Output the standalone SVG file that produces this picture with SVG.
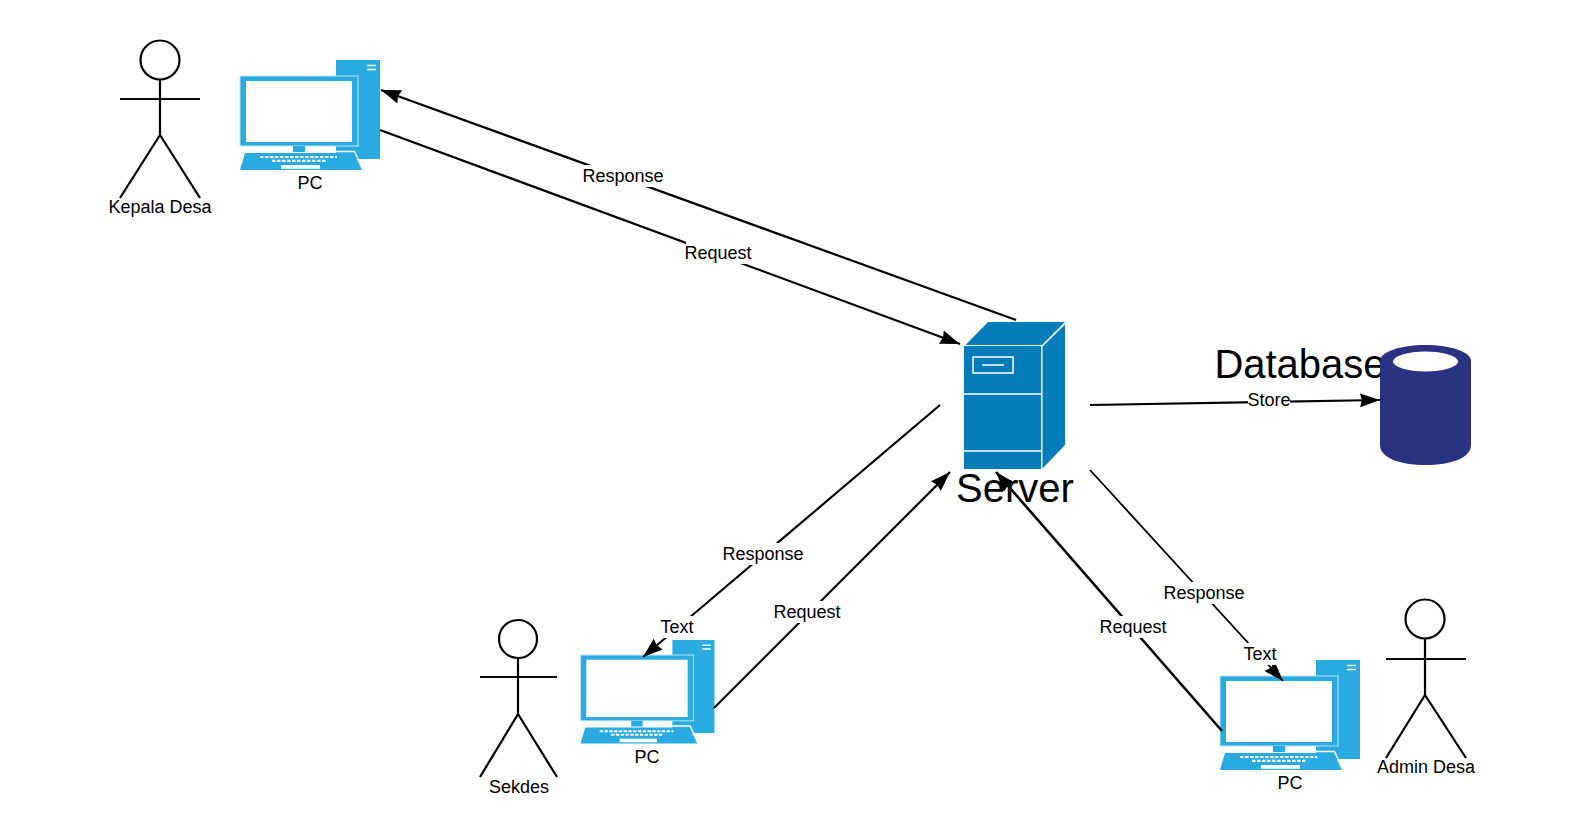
<svg xmlns="http://www.w3.org/2000/svg" width="1586" height="840" viewBox="0 0 1586 840">
<style>
text{font-family:"Liberation Sans",Arial,sans-serif;fill:#000;text-anchor:middle}
.t18{font-size:18px}
.t40{font-size:40px}
.actor{fill:none;stroke:#000;stroke-width:2.2}
.line{fill:none;stroke:#000;stroke-width:2.2}
.bg{fill:#fff}
</style>
<defs>
<marker id="arrow" markerUnits="userSpaceOnUse" markerWidth="24" markerHeight="18" refX="20" refY="8" orient="auto">
<path d="M0 1L20 8L0 15L2 8Z" fill="#000"/>
</marker>
<g id="pc">
<rect x="96" y="0" width="44" height="99" fill="#29abe2"/>
<path d="M127 5.500H136M127 9.500H136" stroke="#fff" stroke-width="1.600"/>
<rect x="0" y="16" width="118" height="70" fill="#29abe2" stroke="#bfe6f7" stroke-width="1"/>
<rect x="6" y="21" width="106" height="61" fill="#fff"/>
<rect x="53" y="86" width="12" height="6" fill="#29abe2"/>
<path d="M96 91.500H114.500L122 108" fill="none" stroke="#fff" stroke-width="1.500"/>
<path d="M0 110L5 93H114L122 110Z" fill="#29abe2"/>
<path d="M20 97H97" stroke="#fff" stroke-width="2.200" stroke-dasharray="3.500 1.500"/>
<path d="M32 100.800H86" stroke="#fff" stroke-width="2.200" stroke-dasharray="3.500 1.500"/>
<rect x="41" y="105" width="39" height="3.800" fill="#fff"/>
</g>
</defs>

<g id="kepala-desa">
<circle class="actor" cx="160" cy="60" r="19.500"/>
<path class="actor" d="M120 99H200M160 79.500V135M120 198L160 135L200 198"/>
<text class="t18" x="160" y="213">Kepala Desa</text>
</g>
<g id="pc-kepala">
<use href="#pc" transform="translate(240 60)"/>
<text class="t18" x="310" y="189">PC</text>
</g>

<g id="sekdes">
<circle class="actor" cx="518" cy="639" r="19"/>
<path class="actor" d="M480 677H557M518 658V714M480 777L518 714L557 777"/>
<text class="t18" x="519" y="793">Sekdes</text>
</g>
<g id="pc-sekdes">
<use href="#pc" transform="translate(580.500 640) scale(.957 .94)"/>
<text class="t18" x="647" y="763">PC</text>
</g>

<g id="admin-desa">
<circle class="actor" cx="1425" cy="619" r="19.500"/>
<path class="actor" d="M1386 659H1466M1425 638.500V695M1386 758L1425 695L1466 758"/>
<text class="t18" x="1426" y="773">Admin Desa</text>
</g>
<g id="pc-admin">
<use href="#pc" transform="translate(1220 660)"/>
<text class="t18" x="1290" y="789">PC</text>
</g>

<g id="server">
<path d="M965.500 345L988 322H1065L1042 345Z" fill="#067dbb"/>
<path d="M1042.500 346.500L1065 324.500V445L1042.500 468.500Z" fill="#067dbb"/>
<rect x="964" y="346" width="77" height="123" fill="#067dbb"/>
<rect x="973" y="357" width="40" height="16" fill="none" stroke="#fff" stroke-width="1.500"/>
<path d="M982 365H1004M964 394H1041M964 451H1041" stroke="#fff" stroke-width="1.500"/>
<text class="t40" x="1015" y="502">Server</text>
</g>

<g id="database">
<text class="t40" x="1300" y="378">Database</text>
<path d="M1380 361C1380 352 1400 345 1425.500 345C1451 345 1471 352 1471 361V445C1471 458 1451 465 1425.500 465C1400 465 1380 458 1380 445Z" fill="#2a3282"/>
<ellipse cx="1425.500" cy="361.500" rx="32.500" ry="10" fill="#fff"/>
</g>

<g id="connectors">
<path class="line" d="M1016 320L381 90" marker-end="url(#arrow)"/>
<path class="line" d="M380 130L960 344" marker-end="url(#arrow)"/>
<path class="line" d="M1090 405L1380 400" marker-end="url(#arrow)"/>
<path class="line" d="M940 405L643 657" marker-end="url(#arrow)"/>
<path class="line" d="M714 708L950 472" marker-end="url(#arrow)"/>
<path class="line" style="stroke-width:1.800" d="M1090 470L1283 681" marker-end="url(#arrow)"/>
<path class="line" style="stroke-width:2.600" d="M1222 731L996 472" marker-end="url(#arrow)"/>
<rect class="bg" x="584" y="165" width="78" height="22"/>
<text class="t18" x="623" y="182">Response</text>
<rect class="bg" x="686" y="242" width="66" height="22"/>
<text class="t18" x="718" y="258.500">Request</text>
<rect class="bg" x="1248" y="390" width="42" height="20"/>
<text class="t18" x="1269" y="406">Store</text>
<rect class="bg" x="723" y="543" width="80" height="22"/>
<text class="t18" x="763" y="560">Response</text>
<rect class="bg" x="660" y="616" width="34" height="22"/>
<text class="t18" x="677" y="633">Text</text>
<rect class="bg" x="775" y="601" width="66" height="22"/>
<text class="t18" x="807" y="618">Request</text>
<rect class="bg" x="1164" y="582" width="80" height="22"/>
<text class="t18" x="1204" y="599">Response</text>
<rect class="bg" x="1244" y="643" width="34" height="22"/>
<text class="t18" x="1260" y="660">Text</text>
<rect class="bg" x="1100" y="616" width="66" height="22"/>
<text class="t18" x="1133" y="633">Request</text>
</g>
</svg>
